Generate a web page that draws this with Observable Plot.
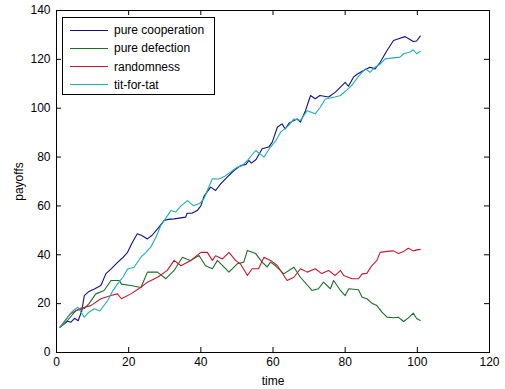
<!DOCTYPE html>
<html>
<head>
<meta charset="utf-8">
<script src="https://cdn.jsdelivr.net/npm/d3@7"></script>
<script src="https://cdn.jsdelivr.net/npm/@observablehq/plot@0.6"></script>
<style>
  html, body { margin: 0; padding: 0; background: #fff; }
  #wrap { position: relative; width: 505px; height: 389px; font-family: "Liberation Sans", Arial, sans-serif; }
  #legend { position: absolute; left: 62px; top: 17px; width: 153px; height: 78px; border: 1px solid #000; background: #fff; box-sizing: border-box; }
  .row { position: absolute; left: 0; height: 18px; display: flex; align-items: center; font-size: 12px; color: #000; }
  .sw { display: inline-block; width: 38px; height: 0; border-top: 1.2px solid; margin-left: 7px; margin-right: 6px; }
</style>
</head>
<body>
<div id="wrap"></div>
<script>
// Series names and colours
const seriesNames = ["pure cooperation", "pure defection", "randomness", "tit-for-tat"];
const seriesColors = ["#101088", "#1c6e28", "#c81830", "#1eb0b0"];

// Axis ticks
const xTicks = [0, 20, 40, 60, 80, 100, 120];
const yTicks = [0, 20, 40, 60, 80, 100, 120, 140];

// pure cooperation
const coopT = [1,2,3,4,5,6,7,7.7,9,10.5,12.3,13.7,15,17,18.5,19.7,21,22.4,23.5,25.2,26.5,28,29.8,31,32.6,34,35.8,36.2,37.5,39,40,40.9,42.7,44.1,45.5,47.3,49.2,51,52.5,53.3,54,55.3,57,58.8,59.8,61.2,62.5,63.4,64.5,66.7,67.6,69,70.4,71.7,73,75.4,77.3,78.7,80,80.9,82.3,83.3,85.1,86.9,88.3,89.7,91.6,93.4,94.8,96.6,97.5,98.9,99.8,100.8];
const coopV = [10.4,11.5,12.8,12.4,14,13,17,23.3,25,26,27.4,32.3,34,37,39,41,45,48.6,48,46.5,48,50.6,54,54.5,54.7,55,55.4,57,57,58.1,60,64,67.7,66.3,69,71.8,74.5,76.5,77,78.6,77.5,79,83.4,84.1,86.1,92.2,93.6,91.5,94,95.6,94.3,99,105.2,103.9,105.2,104.6,106.6,108.6,110.6,109,112.7,113.9,115.4,116.8,116.1,118.8,123.6,127.7,128.4,129.3,128.5,127.3,127.5,129.5];

// tit-for-tat
const tftT = [1,2,3.1,4.5,5.9,7.7,9,10.5,12,14.2,15.5,16.9,18.5,19.7,21.5,23.4,24.8,26.1,27.5,28.9,30.3,31.7,33,34.5,36.3,37.9,39.7,40.9,42,43.2,45,46.5,48.2,50,51.5,52.9,55.2,57.5,59.3,60.7,62.1,64.4,65.8,67.6,69.5,71.7,73.1,74.5,77.2,78.7,80.5,81.9,83.7,85.6,86.9,88.3,89.7,91.1,93.4,95.2,96.2,98,98.9,99.8,100.8];
const tftV = [10.4,12,14.5,17,18.5,14.5,16.5,17.9,17,21.3,25,28.1,31,34.2,34.9,39,41,43.1,47,52,55,58.1,57.5,60,62.2,60.1,61,63,67,71.1,71,72,73.8,75.8,76.5,78.6,82.7,80,84.1,86.5,90.2,93,95.6,95,99,97.7,100.4,103.8,104.6,105.2,107.5,109.5,113,116.1,114.7,116.8,118.1,120.2,120.6,120.9,122.3,123,123.9,122.3,123.3];

// pure defection
const defT = [1,3,5.4,7.7,9,10.9,13.2,15.1,17.4,18,20.6,23.4,25.2,28,30.3,32.6,34.9,37.2,39.5,41.3,43.2,44.6,47.8,50.1,51.9,52.9,55.2,57,58.4,59.3,60.7,63,64.4,65.8,67.6,70.8,72.6,74,75.9,76.8,78.7,80,81,83.7,84.7,86,87.4,88.8,90.2,91.6,93.4,94.8,96.2,97.5,98.9,99.8,100.8];
const defV = [10.4,13,17.2,18,20,24,25.4,29.5,29.5,28,27.4,26.6,32.9,32.9,30.2,33.6,39,37.6,39.7,35.5,34.3,37.7,32.9,36.3,37,41.8,40.5,37,35,37,35.5,32.2,33.6,34.9,30.8,25.4,26.1,28.8,26.1,29.5,25.4,23.3,26.1,25.7,22.6,22,20.2,19.2,16.5,14.5,14.2,14.4,12.7,14.2,16.1,13.9,13.1];

// randomness
const randT = [1,3.8,6.5,9.5,12.3,15.1,16.9,18,20.6,23.4,25.2,28,30.7,32.6,34.5,37.2,40,41.8,43.2,44.1,46,47.8,49.6,51,52.9,54.2,56,57.5,59.3,61.2,63.9,65.8,67.6,69.5,71.7,73.5,75.4,77.2,78.7,79.6,81.9,83.7,84.7,86,87.4,88.8,89.7,91.6,93.4,94.8,96,97.5,98.9,99.8,100.8];
const randV = [10.4,15.8,18,19.2,22,23.3,24,22,24,26.7,28.8,30.8,33.6,37.7,35.5,37.7,41,41,37.7,39.6,38.3,41,37.7,36.2,31.5,34.3,34.3,39,37.7,35.6,29.5,30.8,34.3,32.9,34.3,32.3,33.6,31.5,33.6,31.5,30.2,30.2,32.2,32.4,35.6,37.7,41,41.4,41.6,40.5,41.2,42.7,41.6,42,42.2];

const seriesT = [coopT, defT, randT, tftT];
const seriesV = [coopV, defV, randV, tftV];

const rows = [];
seriesNames.forEach((name, i) => {
  seriesT[i].forEach((t, j) => rows.push({series: name, time: t, payoff: seriesV[i][j]}));
});

const W = 505, H = 389;
const mL = 56, mR = 16, mT = 10, mB = 37;
const innerW = W - mL - mR, innerH = H - mT - mB;
const tick = 5;
const font = "Liberation Sans, Arial, sans-serif";

const chart = Plot.plot({
  width: W, height: H,
  marginLeft: mL, marginRight: mR, marginTop: mT, marginBottom: mB,
  style: {fontFamily: font, fontSize: "12px", color: "#000", background: "#fff"},
  x: {domain: [0, 120], label: null},
  y: {domain: [0, 140], label: null},
  color: {domain: seriesNames, range: seriesColors},
  marks: [
    Plot.lineY(rows, {x: "time", y: "payoff", z: "series", stroke: "series", strokeWidth: 1.1}),
    Plot.frame({stroke: "#000", strokeWidth: 1}),
    // inward ticks bottom/top
    Plot.tickX(xTicks, {x: d => d, insetTop: innerH - tick, stroke: "#000"}),
    Plot.tickX(xTicks, {x: d => d, insetBottom: innerH - tick, stroke: "#000"}),
    // inward ticks left/right
    Plot.tickY(yTicks, {y: d => d, insetRight: innerW - tick, stroke: "#000"}),
    Plot.tickY(yTicks, {y: d => d, insetLeft: innerW - tick, stroke: "#000"}),
    Plot.axisX(xTicks, {tickSize: 0, tickPadding: 5, fontSize: 12, label: "time", labelAnchor: "center", labelOffset: 32, labelArrow: "none"}),
    Plot.axisY(yTicks, {tickSize: 0, tickPadding: 6, fontSize: 12, label: "payoffs", labelAnchor: "center", labelOffset: 42, labelArrow: "none"})
  ]
});

const wrap = document.getElementById("wrap");
wrap.appendChild(chart);

const legend = document.createElement("div");
legend.id = "legend";
seriesNames.forEach((name, i) => {
  const r = document.createElement("div");
  r.className = "row";
  r.style.top = (3 + i * 18.3) + "px";
  const sw = document.createElement("span");
  sw.className = "sw";
  sw.style.borderTopColor = seriesColors[i];
  const tx = document.createElement("span");
  tx.textContent = name;
  r.appendChild(sw);
  r.appendChild(tx);
  legend.appendChild(r);
});
wrap.appendChild(legend);
</script>
</body>
</html>
